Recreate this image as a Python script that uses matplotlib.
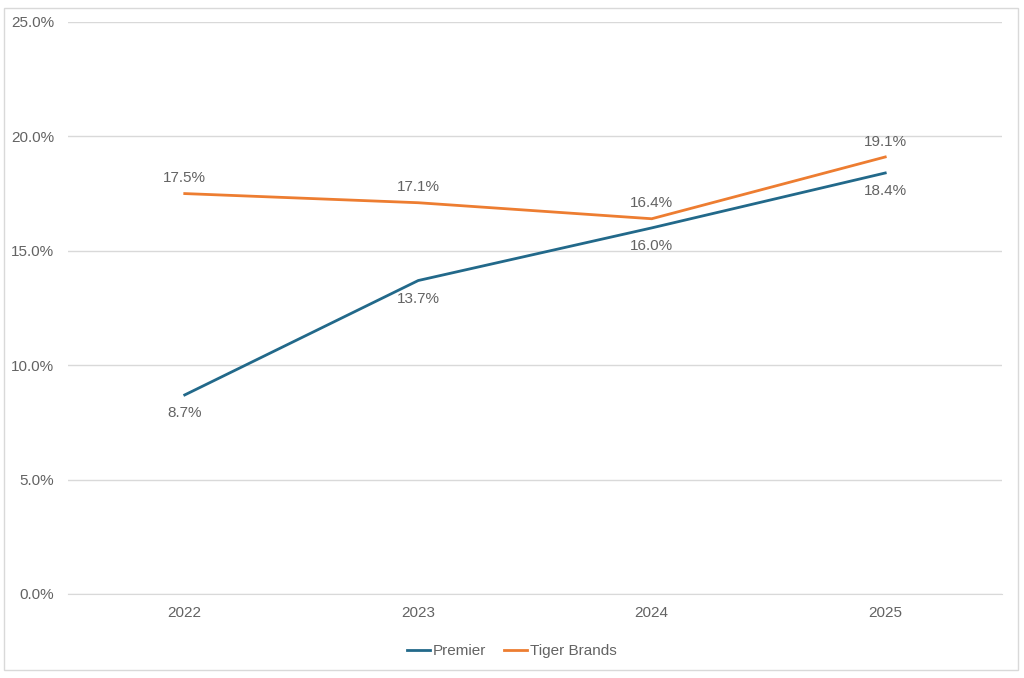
import matplotlib.pyplot as plt
from matplotlib.patches import Rectangle
from matplotlib.ticker import FuncFormatter

plt.rcParams['font.family'] = ['Liberation Sans', 'DejaVu Sans']

years = ['2022', '2023', '2024', '2025']
premier = [8.7, 13.7, 16.0, 18.4]
tiger = [17.5, 17.1, 16.4, 19.1]

blue = '#22698a'
orange = '#ed7d31'
grey_text = '#636363'
grid_col = '#d9d9d9'

fig = plt.figure(figsize=(10.24, 6.78), dpi=100)
ax = fig.add_axes([0.0664, 0.1239, 0.9121, 0.8437])

# chart frame
fig.patches.append(Rectangle((4 / 1024, 1 - 670 / 678), 1014 / 1024, 662 / 678,
                             transform=fig.transFigure, fill=False,
                             edgecolor=grid_col, linewidth=1))

x = list(range(len(years)))
ax.plot(x, premier, color=blue, linewidth=2, label='Premier')
ax.plot(x, tiger, color=orange, linewidth=2, label='Tiger Brands')

for xi, v in zip(x, premier):
    ax.annotate(f'{v:.1f}%', (xi, v), xytext=(0, -8), textcoords='offset points',
                ha='center', va='top', fontsize=11, color=grey_text)
for xi, v in zip(x, tiger):
    ax.annotate(f'{v:.1f}%', (xi, v), xytext=(0, 6), textcoords='offset points',
                ha='center', va='bottom', fontsize=11, color=grey_text)

ax.set_xlim(-0.5, 3.5)
ax.set_ylim(0, 25)
ax.set_yticks([0, 5, 10, 15, 20, 25])
ax.yaxis.set_major_formatter(FuncFormatter(lambda v, p: f'{v:.1f}%'))
ax.set_xticks(x)
ax.set_xticklabels(years)
ax.tick_params(axis='both', length=0, labelsize=11, labelcolor=grey_text)
ax.tick_params(axis='x', pad=9)
ax.tick_params(axis='y', pad=10)
ax.grid(axis='y', color=grid_col, linewidth=1)
ax.set_axisbelow(True)
for s in ['top', 'right', 'left']:
    ax.spines[s].set_visible(False)
ax.spines['bottom'].set_color(grid_col)

fig.legend(loc='center', bbox_to_anchor=(0.5, 1 - 651 / 678), ncol=2, frameon=False,
           fontsize=11, labelcolor=grey_text, handlelength=1.5, handletextpad=0.2,
           columnspacing=1.2)

fig.savefig('out.png', dpi=100)
